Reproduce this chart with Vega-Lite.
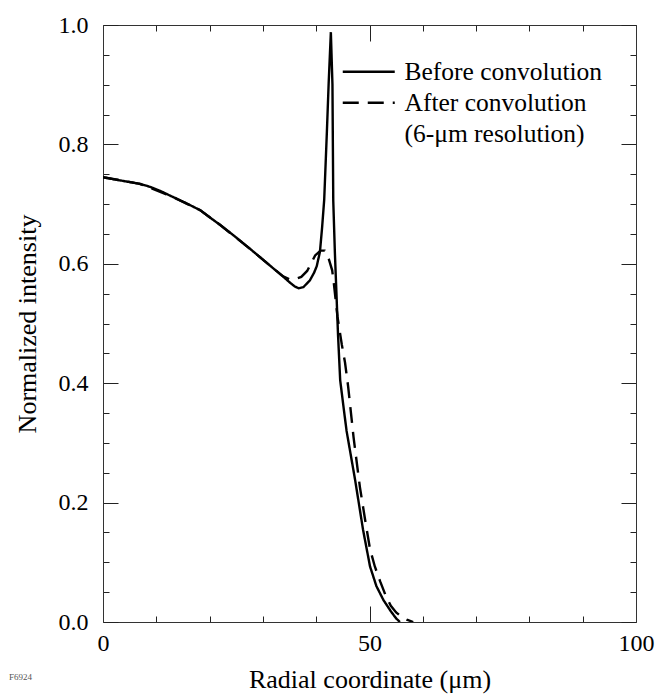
{
  "$schema": "https://vega.github.io/schema/vega-lite/v6.json",
  "autosize": "none",
  "width": 533,
  "height": 597,
  "padding": {"left": 103, "top": 25, "right": 22, "bottom": 74},
  "background": "white",
  "config": {
    "font": "Liberation Serif",
    "view": {"stroke": null},
    "axis": {"domainColor": "#333", "tickColor": "#222", "labelColor": "black", "titleColor": "black", "grid": false, "labelFont": "Liberation Serif", "titleFont": "Liberation Serif", "titleFontWeight": "normal"},
    "legend": {"labelFont": "Liberation Serif"}
  },
  "title": {"text": "F6924", "orient": "bottom", "anchor": "start", "frame": "bounds", "fontSize": 9, "fontWeight": "normal", "color": "#555", "dy": -23, "dx": -5},
  "datasets": {
    "curves": [
      {"series": "Before convolution", "r": 0, "i": 0.745},
      {"series": "Before convolution", "r": 3, "i": 0.740},
      {"series": "Before convolution", "r": 6.9, "i": 0.734},
      {"series": "Before convolution", "r": 8.8, "i": 0.729},
      {"series": "Before convolution", "r": 11, "i": 0.721},
      {"series": "Before convolution", "r": 13.1, "i": 0.712},
      {"series": "Before convolution", "r": 15.5, "i": 0.702},
      {"series": "Before convolution", "r": 18.2, "i": 0.690},
      {"series": "Before convolution", "r": 20, "i": 0.678},
      {"series": "Before convolution", "r": 22, "i": 0.665},
      {"series": "Before convolution", "r": 25, "i": 0.644},
      {"series": "Before convolution", "r": 27.6, "i": 0.625},
      {"series": "Before convolution", "r": 30, "i": 0.607},
      {"series": "Before convolution", "r": 32, "i": 0.592},
      {"series": "Before convolution", "r": 34, "i": 0.577},
      {"series": "Before convolution", "r": 35, "i": 0.569},
      {"series": "Before convolution", "r": 36, "i": 0.562},
      {"series": "Before convolution", "r": 36.7, "i": 0.559},
      {"series": "Before convolution", "r": 37.6, "i": 0.561},
      {"series": "Before convolution", "r": 38.8, "i": 0.572},
      {"series": "Before convolution", "r": 39.6, "i": 0.585},
      {"series": "Before convolution", "r": 40.1, "i": 0.596},
      {"series": "Before convolution", "r": 40.7, "i": 0.620},
      {"series": "Before convolution", "r": 41.1, "i": 0.660},
      {"series": "Before convolution", "r": 41.5, "i": 0.707},
      {"series": "Before convolution", "r": 42.0, "i": 0.820},
      {"series": "Before convolution", "r": 42.35, "i": 0.905},
      {"series": "Before convolution", "r": 42.75, "i": 0.988},
      {"series": "Before convolution", "r": 43.05, "i": 0.900},
      {"series": "Before convolution", "r": 43.2, "i": 0.706},
      {"series": "Before convolution", "r": 43.5, "i": 0.620},
      {"series": "Before convolution", "r": 43.8, "i": 0.550},
      {"series": "Before convolution", "r": 44.1, "i": 0.480},
      {"series": "Before convolution", "r": 44.5, "i": 0.405},
      {"series": "Before convolution", "r": 45.1, "i": 0.362},
      {"series": "Before convolution", "r": 45.7, "i": 0.320},
      {"series": "Before convolution", "r": 47.3, "i": 0.238},
      {"series": "Before convolution", "r": 48.8, "i": 0.154},
      {"series": "Before convolution", "r": 50.1, "i": 0.093},
      {"series": "Before convolution", "r": 51.3, "i": 0.060},
      {"series": "Before convolution", "r": 52.6, "i": 0.037},
      {"series": "Before convolution", "r": 54, "i": 0.018},
      {"series": "Before convolution", "r": 55, "i": 0.006},
      {"series": "Before convolution", "r": 55.7, "i": 0.0},
      {"series": "After convolution", "r": 0, "i": 0.745},
      {"series": "After convolution", "r": 6.9, "i": 0.734},
      {"series": "After convolution", "r": 13.1, "i": 0.712},
      {"series": "After convolution", "r": 18.2, "i": 0.690},
      {"series": "After convolution", "r": 22, "i": 0.665},
      {"series": "After convolution", "r": 27.6, "i": 0.625},
      {"series": "After convolution", "r": 32, "i": 0.592},
      {"series": "After convolution", "r": 33.8, "i": 0.579},
      {"series": "After convolution", "r": 35, "i": 0.574},
      {"series": "After convolution", "r": 36, "i": 0.574},
      {"series": "After convolution", "r": 37.2, "i": 0.578},
      {"series": "After convolution", "r": 38.3, "i": 0.588},
      {"series": "After convolution", "r": 39.8, "i": 0.614},
      {"series": "After convolution", "r": 40.8, "i": 0.622},
      {"series": "After convolution", "r": 41.6, "i": 0.622},
      {"series": "After convolution", "r": 42.4, "i": 0.607},
      {"series": "After convolution", "r": 43.0, "i": 0.589},
      {"series": "After convolution", "r": 43.3, "i": 0.568},
      {"series": "After convolution", "r": 44.0, "i": 0.511},
      {"series": "After convolution", "r": 44.8, "i": 0.465},
      {"series": "After convolution", "r": 45.4, "i": 0.435},
      {"series": "After convolution", "r": 46.0, "i": 0.394},
      {"series": "After convolution", "r": 47.0, "i": 0.310},
      {"series": "After convolution", "r": 48.2, "i": 0.226},
      {"series": "After convolution", "r": 49.2, "i": 0.170},
      {"series": "After convolution", "r": 50.1, "i": 0.122},
      {"series": "After convolution", "r": 51.0, "i": 0.093},
      {"series": "After convolution", "r": 52.0, "i": 0.068},
      {"series": "After convolution", "r": 53.0, "i": 0.045},
      {"series": "After convolution", "r": 54.0, "i": 0.027},
      {"series": "After convolution", "r": 55.0, "i": 0.016},
      {"series": "After convolution", "r": 56.0, "i": 0.009},
      {"series": "After convolution", "r": 57.0, "i": 0.004},
      {"series": "After convolution", "r": 58.2, "i": 0.0}
    ]
  },
  "data": {"name": "curves"},
  "resolve": {"axis": {"x": "independent", "y": "independent"}},
  "layer": [
    {
      "transform": [{"filter": "datum.series === 'Before convolution'"}],
      "mark": {"type": "line", "color": "black", "strokeWidth": 2.4, "clip": true},
      "encoding": {
        "x": {"field": "r", "type": "quantitative", "scale": {"domain": [0, 100], "nice": false, "zero": false},
          "axis": {"orient": "bottom", "values": [0,10,20,30,40,50,60,70,80,90,100], "labelExpr": "datum.value % 50 === 0 ? datum.label : ''",
            "tickSize": {"condition": {"test": "datum.value % 50 === 0", "value": -16}, "value": -6},
            "labelPadding": 25, "labelFontSize": 24, "title": "Radial coordinate (\u03bcm)", "titleFontSize": 26, "titlePadding": 11, "labelFlush": false}},
        "y": {"field": "i", "type": "quantitative", "scale": {"domain": [0, 1], "nice": false, "zero": false},
          "axis": {"orient": "left", "values": [0,0.05,0.1,0.15,0.2,0.25,0.3,0.35,0.4,0.45,0.5,0.55,0.6,0.65,0.7,0.75,0.8,0.85,0.9,0.95,1.0],
            "labelExpr": "round(datum.value*100) % 20 === 0 ? format(datum.value, '.1f') : ''",
            "tickSize": {"condition": {"test": "round(datum.value*100) % 20 === 0", "value": -15}, "value": -6},
            "labelPadding": 30, "labelFontSize": 24, "title": "Normalized intensity", "titleFontSize": 26, "titlePadding": 18, "labelFlush": false}},
        "strokeDash": {"field": "series", "type": "nominal",
          "scale": {"domain": ["Before convolution", "After convolution", "(6-\u03bcm resolution)"], "range": [[1, 0], [16, 9], [0, 1000]]},
          "legend": {"orient": "none", "legendX": 253, "legendY": 34, "title": null, "symbolType": "M-4,0H4", "symbolSize": 169, "symbolStrokeWidth": 2.4, "symbolStrokeColor": "black", "symbolFillColor": "transparent", "labelFontSize": 25.5, "labelOffset": 23, "rowPadding": 4, "padding": 0, "labelLimit": 400}}
      }
    },
    {
      "transform": [{"filter": "datum.series === 'After convolution'"}],
      "mark": {"type": "line", "color": "black", "strokeWidth": 2.4, "clip": true},
      "encoding": {
        "x": {"field": "r", "type": "quantitative",
          "axis": {"orient": "top", "values": [0,10,20,30,40,50,60,70,80,90,100], "labels": false, "title": null,
            "tickSize": {"condition": {"test": "datum.value % 50 === 0", "value": -16}, "value": -6}}},
        "y": {"field": "i", "type": "quantitative",
          "axis": {"orient": "right", "values": [0,0.05,0.1,0.15,0.2,0.25,0.3,0.35,0.4,0.45,0.5,0.55,0.6,0.65,0.7,0.75,0.8,0.85,0.9,0.95,1.0], "labels": false, "title": null,
            "tickSize": {"condition": {"test": "round(datum.value*100) % 20 === 0", "value": -15}, "value": -6}}},
        "strokeDash": {"field": "series", "type": "nominal"}
      }
    }
  ]
}
